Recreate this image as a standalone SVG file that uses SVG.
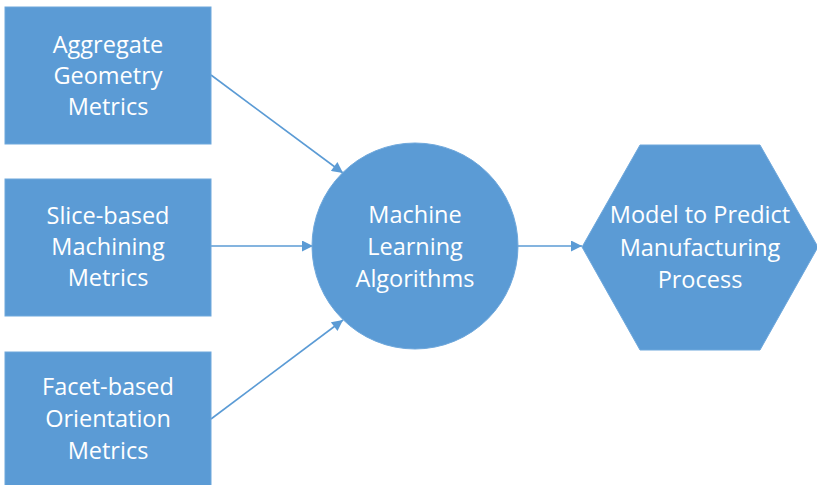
<svg xmlns="http://www.w3.org/2000/svg" width="817" height="485" viewBox="0 0 817 485">
<defs>
<style>
.n{fill:#5B9BD5;stroke:#6FA8DC;stroke-width:1}
.t{font-family:"Open Sans","Liberation Sans",sans-serif;font-size:23.5px;fill:#FFFFFF;text-anchor:middle}
.c{stroke:#5B9BD5;stroke-width:1.6;fill:none;marker-end:url(#ah)}
</style>
<marker id="ah" viewBox="0 0 10 10" refX="10" refY="5" markerWidth="12" markerHeight="11" markerUnits="userSpaceOnUse" orient="auto">
<path d="M0,0 L10,5 L0,10 z" fill="#5B9BD5"/>
</marker>
</defs>
<rect width="817" height="485" fill="#FFFFFF"/>
<g id="connectors">
<line class="c" x1="211" y1="75" x2="343" y2="173"/>
<line class="c" x1="211" y1="246" x2="313" y2="246"/>
<line class="c" x1="211" y1="419" x2="343" y2="320"/>
<line class="c" x1="518" y1="246" x2="582" y2="246"/>
</g>
<g id="aggregate">
<rect class="n" x="5" y="7" width="206" height="137"/>
<text class="t" x="108" y="53">Aggregate</text>
<text class="t" x="108" y="84">Geometry</text>
<text class="t" x="108" y="115">Metrics</text>
</g>
<g id="slice">
<rect class="n" x="5" y="179" width="206" height="137"/>
<text class="t" x="108" y="224">Slice-based</text>
<text class="t" x="108" y="255">Machining</text>
<text class="t" x="108" y="286">Metrics</text>
</g>
<g id="facet">
<rect class="n" x="5" y="352" width="206" height="140"/>
<text class="t" x="108" y="395">Facet-based</text>
<text class="t" x="108" y="427">Orientation</text>
<text class="t" x="108" y="459">Metrics</text>
</g>
<g id="ml">
<circle class="n" cx="415" cy="246" r="103"/>
<text class="t" x="415" y="223">Machine</text>
<text class="t" x="415" y="255">Learning</text>
<text class="t" x="415" y="287">Algorithms</text>
</g>
<g id="model">
<polygon class="n" points="582,247 640,145 760,145 818,247 760,350 640,350"/>
<text class="t" x="700" y="223">Model to Predict</text>
<text class="t" x="700" y="256">Manufacturing</text>
<text class="t" x="700" y="288">Process</text>
</g>
</svg>
